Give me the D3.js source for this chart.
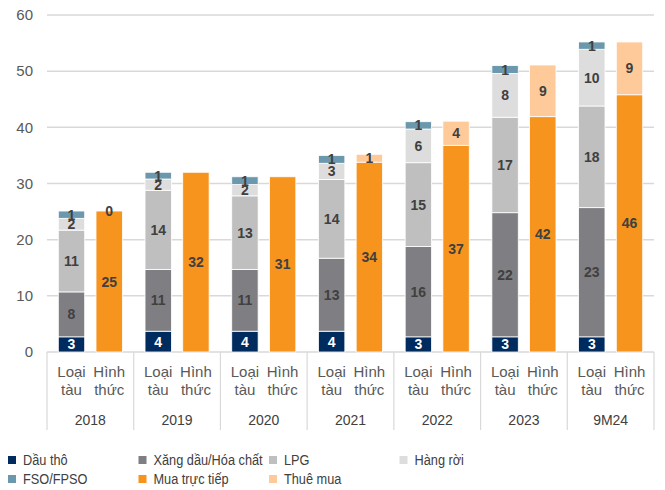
<!DOCTYPE html>
<html>
<head>
<meta charset="utf-8">
<script src="https://cdn.jsdelivr.net/npm/d3@7"></script>
<style>
body { margin: 0; background: #fff; }
svg { font-family: "Liberation Sans", Arial, sans-serif; }
</style>
</head>
<body>
<div class="canvas"></div>
<script>
// data
const years = ['2018', '2019', '2020', '2021', '2022', '2023', '9M24'];
const subLabels = [['Loại', 'tàu'], ['Hình', 'thức']];
// Loại tàu
const crude = [2.7, 3.7, 3.7, 3.7, 2.7, 2.7, 2.7];
const petro = [8.0, 11.0, 11.0, 13.0, 16.1, 22.1, 23.0];
const lpg = [11.0, 14.1, 13.1, 14.0, 14.9, 17.0, 18.1];
const bulk = [2.1, 2.0, 2.0, 2.9, 6.0, 7.8, 10.1];
const fso = [1.3, 1.2, 1.4, 1.4, 1.3, 1.4, 1.3];
// Hình thức
const direct = [25.1, 32.0, 31.2, 33.8, 36.8, 41.9, 45.8];
const lease = [0, null, null, 1.4, 4.3, 9.2, 9.4];
const yTicks = [0, 10, 20, 30, 40, 50, 60];

const typeKeys = ['Dầu thô', 'Xăng dầu/Hóa chất', 'LPG', 'Hàng rời', 'FSO/FPSO'];
const formKeys = ['Mua trực tiếp', 'Thuê mua'];
const colors = {
  'Dầu thô': '#002b5e',
  'Xăng dầu/Hóa chất': '#7f7f83',
  'LPG': '#bfbfbf',
  'Hàng rời': '#dddddd',
  'FSO/FPSO': '#6b98ad',
  'Mua trực tiếp': '#f7941e',
  'Thuê mua': '#ffca99'
};
const legendOrder = ['Dầu thô', 'Xăng dầu/Hóa chất', 'LPG', 'Hàng rời', 'FSO/FPSO', 'Mua trực tiếp', 'Thuê mua'];

const typeRows = years.map((y, i) => ({
  year: y, 'Dầu thô': crude[i], 'Xăng dầu/Hóa chất': petro[i], 'LPG': lpg[i], 'Hàng rời': bulk[i], 'FSO/FPSO': fso[i]
}));
const formRows = years.map((y, i) => ({
  year: y, 'Mua trực tiếp': direct[i], 'Thuê mua': lease[i]
}));

const width = 665, height = 490;
const margin = { left: 47, right: 654, top: 15, bottom: 352 };

const svg = d3.select('.canvas')
  .append('svg')
  .attr('width', width)
  .attr('height', height);

const y = d3.scaleLinear().domain([0, 60]).range([margin.bottom, margin.top]);
const x0 = d3.scaleBand().domain(years).range([margin.left, margin.right]);
const x1 = d3.scaleBand().domain([0, 1]).range([0, x0.bandwidth()]).padding(0.3);

// gridlines
svg.append('g')
  .selectAll('line')
  .data(yTicks)
  .enter().append('line')
  .attr('x1', margin.left).attr('x2', margin.right)
  .attr('y1', d => y(d)).attr('y2', d => y(d))
  .attr('stroke', '#d9d9d9')
  .attr('stroke-width', 1.5);

// y labels
svg.append('g')
  .selectAll('text')
  .data(yTicks)
  .enter().append('text')
  .attr('x', 33)
  .attr('y', d => y(d))
  .attr('dy', '0.35em')
  .attr('text-anchor', 'end')
  .attr('fill', '#595959')
  .style('font-size', '15px')
  .text(d => d);

// stacked bars
const drawStack = (rows, keys, sub) => {
  const series = d3.stack().keys(keys).value((d, k) => d[k] || 0)(rows);
  series.forEach(s => {
    const g = svg.append('g');
    g.selectAll('rect')
      .data(s)
      .enter().append('rect')
      .attr('x', d => x0(d.data.year) + x1(sub))
      .attr('width', x1.bandwidth())
      .attr('y', d => y(d[1]))
      .attr('height', d => y(d[0]) - y(d[1]))
      .attr('fill', colors[s.key])
      .attr('stroke', '#fff')
      .attr('stroke-width', 0.8);
    g.selectAll('text')
      .data(s.filter(d => d.data[s.key] != null))
      .enter().append('text')
      .attr('x', d => x0(d.data.year) + x1(sub) + x1.bandwidth() / 2)
      .attr('y', d => (y(d[0]) + y(d[1])) / 2)
      .attr('dy', '0.36em')
      .attr('text-anchor', 'middle')
      .attr('fill', s.key === 'Dầu thô' ? '#fff' : '#404040')
      .style('font-size', '14px')
      .style('font-weight', 'bold')
      .text(d => Math.round(d.data[s.key]));
  });
};
drawStack(typeRows, typeKeys, 0);
drawStack(formRows, formKeys, 1);

// x axis: separators, sub labels, years
const xAxis = svg.append('g');
xAxis.selectAll('line')
  .data(years.map(d => x0(d)).concat([margin.right]))
  .enter().append('line')
  .attr('x1', d => d).attr('x2', d => d)
  .attr('y1', margin.bottom).attr('y2', 430)
  .attr('stroke', '#d9d9d9')
  .attr('stroke-width', 1.2);

years.forEach(yr => {
  subLabels.forEach((lines, j) => {
    const cx = x0(yr) + x1(j) + x1.bandwidth() / 2;
    const t = xAxis.append('text')
      .attr('x', cx)
      .attr('y', 377)
      .attr('text-anchor', 'middle')
      .attr('fill', '#595959')
      .style('font-size', '15px');
    lines.forEach((l, k) => {
      t.append('tspan')
        .attr('x', cx)
        .attr('dy', k === 0 ? 0 : 18)
        .text(l);
    });
  });
});

xAxis.selectAll('.year')
  .data(years)
  .enter().append('text')
  .attr('class', 'year')
  .attr('x', d => x0(d) + x0.bandwidth() / 2)
  .attr('y', 420)
  .attr('dy', '0.35em')
  .attr('text-anchor', 'middle')
  .attr('fill', '#404040')
  .style('font-size', '14px')
  .text(d => d);

// legend
const legend = svg.append('g')
  .selectAll('g')
  .data(legendOrder)
  .enter().append('g')
  .attr('transform', (d, i) => `translate(${8 + 130.5 * (i % 4)},${460 + 19 * Math.floor(i / 4)})`);
legend.append('rect')
  .attr('x', 0).attr('y', -4)
  .attr('width', 8).attr('height', 8)
  .attr('fill', d => colors[d]);
legend.append('text')
  .attr('transform', 'translate(15,0) scale(0.88,1)')
  .attr('dy', '0.35em')
  .attr('fill', '#404040')
  .style('font-size', '14.5px')
  .text(d => d);
</script>
</body>
</html>
